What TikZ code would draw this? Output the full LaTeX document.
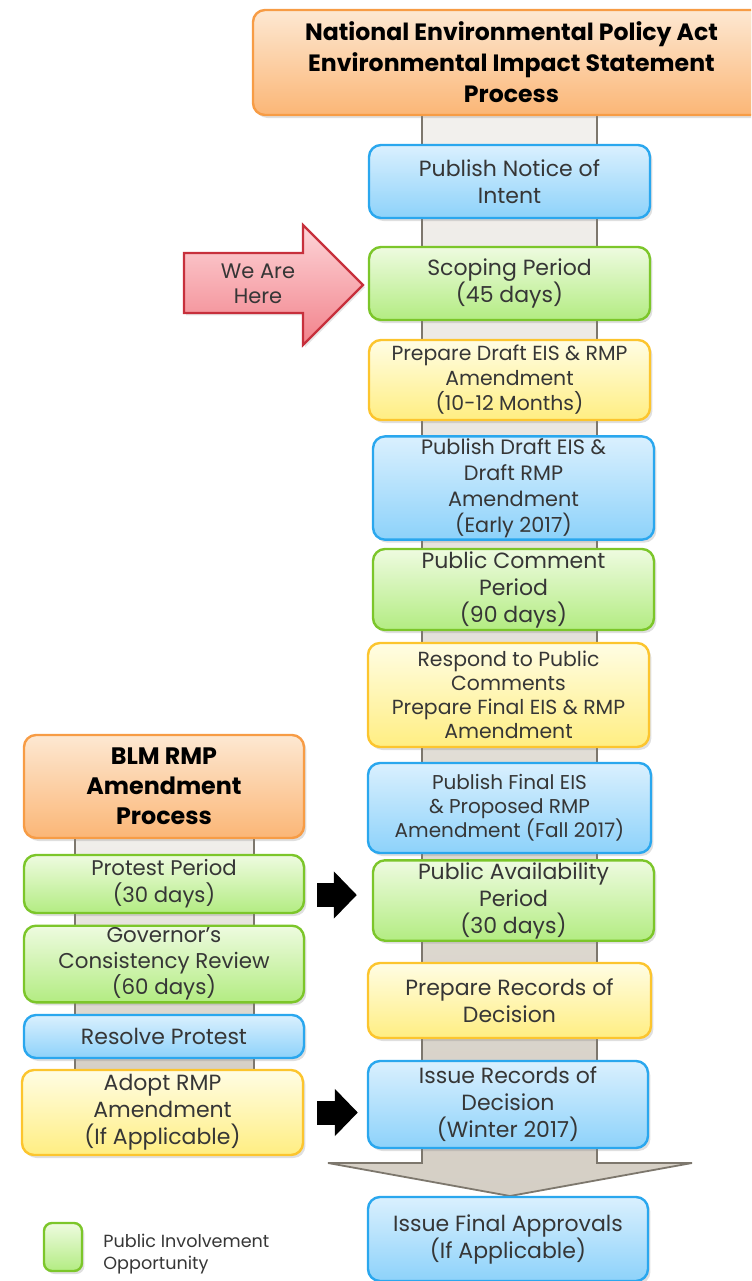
\documentclass[tikz,border=0pt]{standalone}
\usepackage{fontspec}
\setmainfont{Poppins}
\usetikzlibrary{shadows,arrows.meta,positioning}

\definecolor{txt}{HTML}{363636}
\definecolor{blutop}{HTML}{DAF0FE}
\definecolor{blubot}{HTML}{8DD2FA}
\definecolor{bluline}{HTML}{2AA7EE}
\definecolor{grntop}{HTML}{EEFBE0}
\definecolor{grnbot}{HTML}{B3EC82}
\definecolor{grnline}{HTML}{7CC62A}
\definecolor{yeltop}{HTML}{FFFDE4}
\definecolor{yelbot}{HTML}{FFEE82}
\definecolor{yelline}{HTML}{FCC52E}
\definecolor{orgtop}{HTML}{FDE8D2}
\definecolor{orgbot}{HTML}{FBB676}
\definecolor{orgline}{HTML}{F79C45}
\definecolor{bandtop}{HTML}{F3F1EE}
\definecolor{bandbot}{HTML}{D5CFC5}
\definecolor{bandline}{HTML}{7D776D}
\definecolor{heretop}{HTML}{FDD5D8}
\definecolor{herebot}{HTML}{F2828B}
\definecolor{hereline}{HTML}{C7303C}

\begin{document}
\begin{tikzpicture}[x=0.5pt,y=-0.5pt,
	stage/.style={draw, rounded corners=6pt, line width=1.2pt, align=center,
		text=txt, inner sep=1pt, font=\fontsize{11}{13.5}\selectfont,
		drop shadow={opacity=0.25, shadow xshift=1.2pt, shadow yshift=-1.5pt}},
	small/.style={font=\fontsize{10.2}{12.5}\selectfont},
	blu/.style={stage, top color=blutop, bottom color=blubot, draw=bluline},
	grn/.style={stage, top color=grntop, bottom color=grnbot, draw=grnline},
	yel/.style={stage, top color=yeltop, bottom color=yelbot, draw=yelline},
	org/.style={stage, top color=orgtop, bottom color=orgbot, draw=orgline,
		text=black, font=\bfseries\fontsize{11.8}{15.5}\selectfont},
	band/.style={top color=bandtop, bottom color=bandbot, draw=bandline, line width=0.9pt},
	fat/.style={line width=12pt, -{Triangle[length=11.5pt,width=23pt]}, black}]
\useasboundingbox (0,0) rectangle (751,1281);
\clip (0,0) rectangle (751,1281);

% grey stems behind the two columns
\draw [band] (422,100) -- (422,1163) -- (328,1163) -- (510,1196) -- (692,1163)
	-- (597,1163) -- (597,100) -- cycle;
\draw [band] (75,820) rectangle (254,1076);

% right column
\node [org, minimum width=258.5pt, minimum height=52.5pt] (nepa) at (511.5,62.5)
	{National Environmental Policy Act\\Environmental Impact Statement\\Process};
\node [blu, minimum width=140.5pt, minimum height=36.5pt] (notice) at (509.5,181.5)
	{Publish Notice of\\Intent};
\node [grn, minimum width=140.5pt, minimum height=36.5pt] (scoping) at (509.5,283.5)
	{Scoping Period\\(45 days)};
\node [yel, small, minimum width=140.5pt, minimum height=40pt] (prepdraft) at (509.5,380)
	{Prepare Draft EIS \& RMP\\Amendment\\(10-12 Months)};
\node [blu, small, font=\fontsize{10.4}{13}\selectfont, minimum width=140.5pt,
	minimum height=50pt] (pubdraft) at (513.5,488)
	{Publish Draft EIS \&\\Draft RMP\\Amendment\\(Early 2017)};
\node [grn, minimum width=140.5pt, minimum height=40.5pt] (comment) at (513.5,589.5)
	{Public Comment\\Period\\(90 days)};
\node [yel, small, font=\fontsize{10.2}{12}\selectfont, minimum width=140.5pt,
	minimum height=52pt] (respond) at (508.5,695)
	{Respond to Public\\Comments\\Prepare Final EIS \& RMP\\Amendment};
\node [blu, small, font=\fontsize{10}{12}\selectfont, minimum width=141.5pt,
	minimum height=45pt] (pubfinal) at (509.5,808)
	{Publish Final EIS\\\& Proposed RMP\\Amendment (Fall 2017)};
\node [grn, minimum width=140.5pt, minimum height=37.5pt] (avail) at (513.5,900.5)
	{Public Availability\\Period\\(30 days)};
\node [yel, minimum width=141.5pt, minimum height=37.5pt] (preprod) at (509.5,1000.5)
	{Prepare Records of\\Decision};
\node [blu, minimum width=140pt, minimum height=43.5pt] (issuerod) at (508,1104.5)
	{Issue Records of\\Decision\\(Winter 2017)};
\node [blu, minimum width=140pt, minimum height=42pt] (approvals) at (508,1239)
	{Issue Final Approvals\\(If Applicable)};

% left column
\node [org, minimum width=140pt, minimum height=51.5pt, font=\bfseries\fontsize{11.9}{15}\selectfont]
	(blm) at (164,786.5) {BLM RMP\\Amendment\\Process};
\node [grn, font=\fontsize{10.6}{13.5}\selectfont, minimum width=140pt, minimum height=29pt]
	(protest) at (164,884) {Protest Period\\(30 days)};
\node [grn, font=\fontsize{10.7}{13}\selectfont, minimum width=140pt, minimum height=37pt]
	(governor) at (164,964) {Governor's\\Consistency Review\\(60 days)};
\node [blu, minimum width=140pt, minimum height=21.5pt] (resolve) at (164,1036.5)
	{Resolve Protest};
\node [yel, minimum width=140.5pt, minimum height=42.5pt] (adopt) at (162.5,1112.5)
	{Adopt RMP\\Amendment\\(If Applicable)};

% we are here marker
\draw [top color=heretop, bottom color=herebot, draw=hereline, line width=1.1pt,
	drop shadow={opacity=0.2, shadow xshift=1pt, shadow yshift=-1.2pt}]
	(184,253) -- (303,253) -- (303,225) -- (363,285) -- (303,345) -- (303,313)
	-- (184,313) -- cycle;
\node [align=center, text=txt, font=\fontsize{10.5}{12.5}\selectfont] (here) at (258,284)
	{We Are\\Here};

% links between the columns
\coordinate (pa) at ([yshift=-5.5pt]protest.east);
\draw [fat, shorten <=6pt, shorten >=7.5pt] (pa) -- (pa -| avail.west);
\draw [fat, shorten <=6.5pt, shorten >=4.5pt] (adopt.east) -- (adopt.east -| issuerod.west);

% legend
\node [grn, minimum width=19pt, minimum height=24pt, rounded corners=4pt] (key) at (63,1247) {};
\node [anchor=west, align=left, inner sep=0pt, text=txt, font=\fontsize{8.8}{11}\selectfont]
	(keytext) at (103,1254) {Public Involvement\\Opportunity};
\end{tikzpicture}
\end{document}
